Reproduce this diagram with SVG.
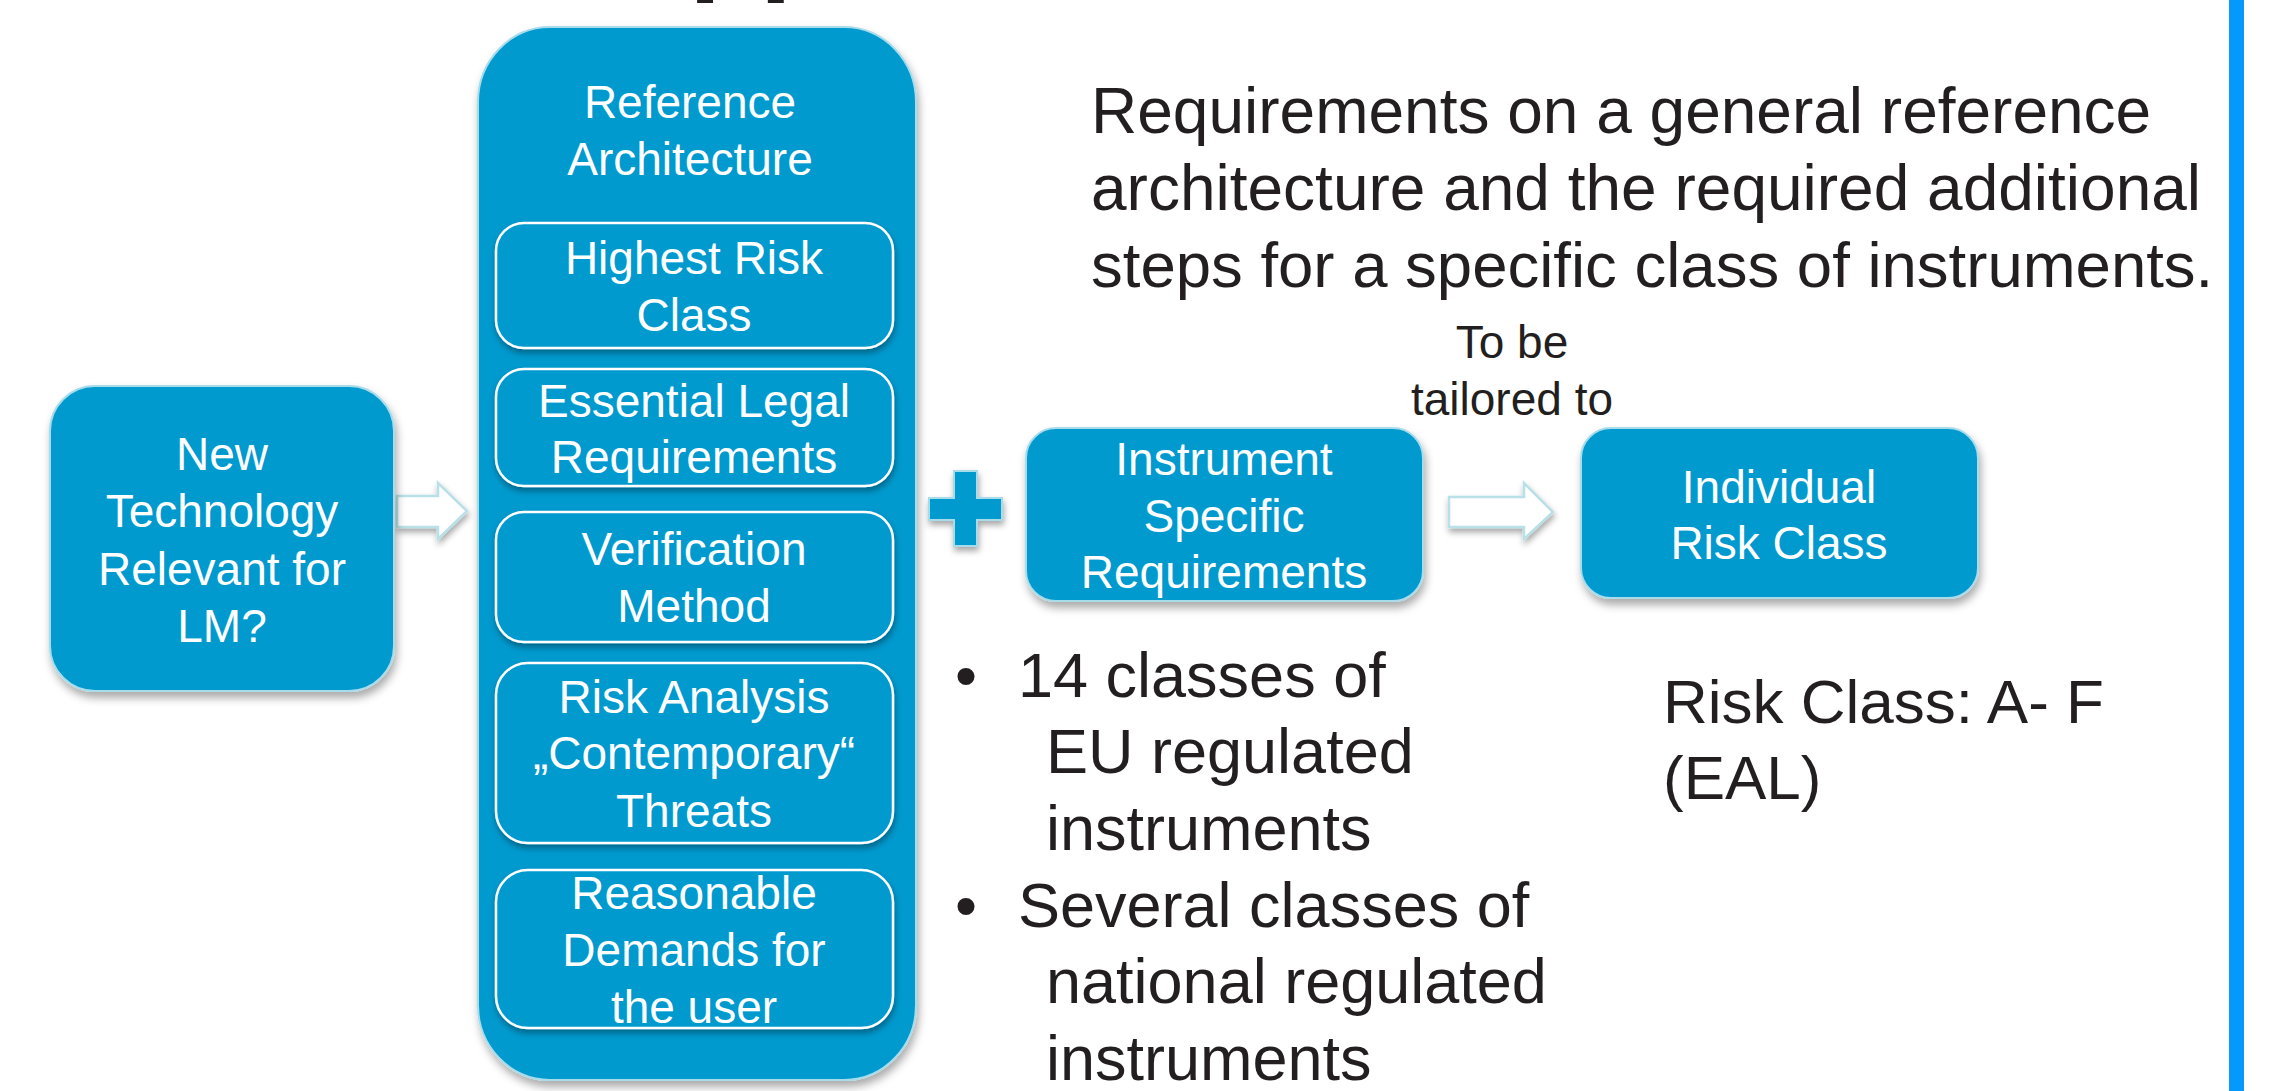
<svg xmlns="http://www.w3.org/2000/svg" width="2277" height="1091" viewBox="0 0 2277 1091">
  <defs>
    <filter id="sh" x="-10%" y="-10%" width="130%" height="130%">
      <feDropShadow dx="2" dy="6" stdDeviation="4" flood-color="#000" flood-opacity="0.33"/>
    </filter>
    <filter id="sh2" x="-10%" y="-10%" width="130%" height="130%">
      <feDropShadow dx="1" dy="4" stdDeviation="3" flood-color="#000" flood-opacity="0.35"/>
    </filter>
  </defs>
  <style>
    .box { fill: #009ACF; stroke: #A9DCEB; stroke-width: 2; }
    .inner { fill: #009ACF; stroke: #FFFFFF; stroke-width: 2.5; }
    .wt { fill: #FFFFFF; font-family: "Liberation Sans", Arial, sans-serif; font-size: 46px; text-anchor: middle; }
    .dt { fill: #231F20; font-family: "Liberation Sans", Arial, sans-serif; }
    .arrow { fill: #FFFFFF; stroke: #B9E0E6; stroke-width: 2.5; }
    .plus { fill: #009ACF; stroke: #A9DCEB; stroke-width: 2; }
  </style>
  <rect width="2277" height="1091" fill="#FFFFFF"/>

  <!-- cut-off title fragment at top -->
  <text class="dt" x="689" y="-21" font-size="116" font-weight="bold">pp</text>

  <!-- right edge bar -->
  <rect x="2229" y="0" width="15" height="1091" fill="#0599FD"/>

  <g id="connectors">
    <path class="arrow" filter="url(#sh2)" d="M397,496 L438,496 L438,483 L467,511 L438,539 L438,527 L397,527 Z"/>
    <path class="arrow" filter="url(#sh2)" d="M1449,497 L1524,497 L1524,483 L1553,512 L1524,539 L1524,527 L1449,527 Z"/>
    <path id="plus" class="plus" filter="url(#sh2)" d="M954,471 L977,471 L977,498 L1002,498 L1002,520 L977,520 L977,546 L954,546 L954,520 L929,520 L929,498 L954,498 Z"/>
  </g>

  <g id="node-new-technology">
    <rect class="box" filter="url(#sh)" x="50" y="386" width="344" height="305" rx="45" ry="45"/>
    <text class="wt" x="222" y="470">New</text>
    <text class="wt" x="222" y="527">Technology</text>
    <text class="wt" x="222" y="585">Relevant for</text>
    <text class="wt" x="222" y="642">LM?</text>
  </g>

  <g id="node-reference-architecture">
    <rect class="box" filter="url(#sh)" x="478" y="27" width="438" height="1053" rx="72" ry="75"/>
    <text class="wt" x="690" y="118">Reference</text>
    <text class="wt" x="690" y="175">Architecture</text>
  </g>

  <g id="node-highest-risk">
    <rect class="inner" filter="url(#sh2)" x="496" y="223" width="397" height="125" rx="28" ry="28"/>
    <text class="wt" x="694" y="274">Highest Risk</text>
    <text class="wt" x="694" y="331">Class</text>
  </g>

  <g id="node-essential-legal">
    <rect class="inner" filter="url(#sh2)" x="496" y="369" width="397" height="117" rx="28" ry="28"/>
    <text class="wt" x="694" y="417">Essential Legal</text>
    <text class="wt" x="694" y="473">Requirements</text>
  </g>

  <g id="node-verification">
    <rect class="inner" filter="url(#sh2)" x="496" y="512" width="397" height="130" rx="28" ry="28"/>
    <text class="wt" x="694" y="565">Verification</text>
    <text class="wt" x="694" y="622">Method</text>
  </g>

  <g id="node-risk-analysis">
    <rect class="inner" filter="url(#sh2)" x="496" y="663" width="397" height="180" rx="32" ry="32"/>
    <text class="wt" x="694" y="713">Risk Analysis</text>
    <text class="wt" x="694" y="769">„Contemporary“</text>
    <text class="wt" x="694" y="827">Threats</text>
  </g>

  <g id="node-reasonable-demands">
    <rect class="inner" filter="url(#sh2)" x="496" y="870" width="397" height="158" rx="32" ry="32"/>
    <text class="wt" x="694" y="909">Reasonable</text>
    <text class="wt" x="694" y="966">Demands for</text>
    <text class="wt" x="694" y="1023">the user</text>
  </g>

  <g id="node-instrument-specific">
    <rect class="box" filter="url(#sh)" x="1026" y="428" width="397" height="173" rx="30" ry="30"/>
    <text class="wt" x="1224" y="475">Instrument</text>
    <text class="wt" x="1224" y="532">Specific</text>
    <text class="wt" x="1224" y="588">Requirements</text>
  </g>

  <g id="node-individual-risk">
    <rect class="box" filter="url(#sh)" x="1581" y="428" width="397" height="170" rx="30" ry="30"/>
    <text class="wt" x="1779" y="503">Individual</text>
    <text class="wt" x="1779" y="559">Risk Class</text>
  </g>

  <g id="labels">
    <text class="dt" x="1512" y="358" font-size="46" text-anchor="middle">To be</text>
    <text class="dt" x="1512" y="415" font-size="46" text-anchor="middle">tailored to</text>

    <text class="dt" x="1091" y="133" font-size="64">Requirements on a general reference</text>
    <text class="dt" x="1091" y="210" font-size="64">architecture and the required additional</text>
    <text class="dt" x="1091" y="287" font-size="63.5">steps for a specific class of instruments.</text>

    <text class="dt" x="955" y="697" font-size="63">•</text>
    <text class="dt" x="1018" y="697" font-size="63">14 classes of</text>
    <text class="dt" x="1046" y="773" font-size="63">EU regulated</text>
    <text class="dt" x="1046" y="850" font-size="63">instruments</text>
    <text class="dt" x="955" y="927" font-size="63">•</text>
    <text class="dt" x="1018" y="927" font-size="63">Several classes of</text>
    <text class="dt" x="1046" y="1003" font-size="63">national regulated</text>
    <text class="dt" x="1046" y="1080" font-size="63">instruments</text>

    <text class="dt" x="1663" y="723" font-size="62">Risk Class: A- F</text>
    <text class="dt" x="1663" y="799" font-size="62">(EAL)</text>
  </g>
</svg>
